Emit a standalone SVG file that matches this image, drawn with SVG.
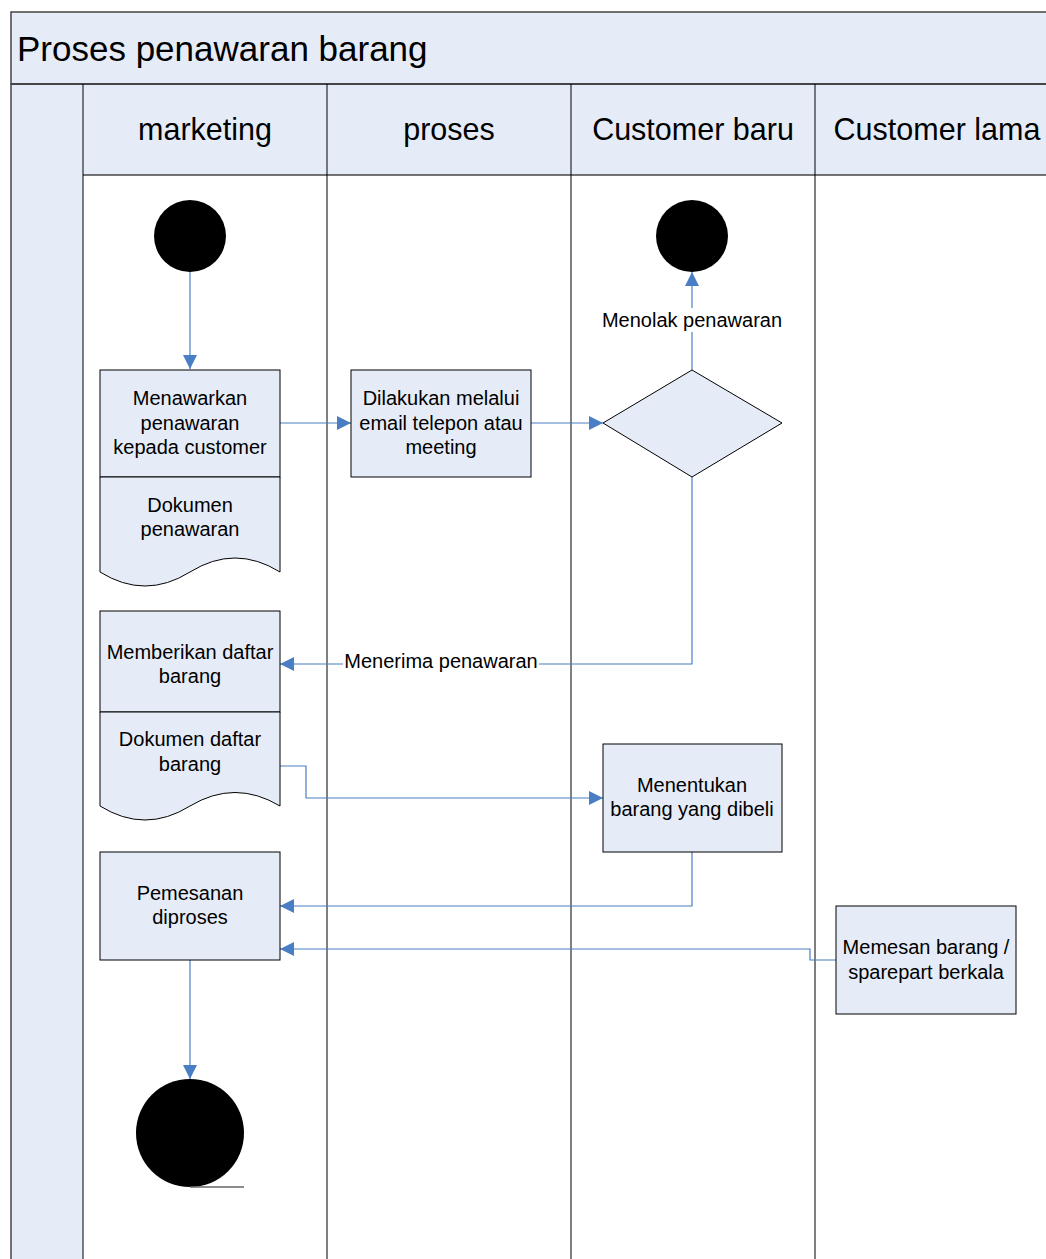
<svg xmlns="http://www.w3.org/2000/svg" width="1046" height="1259" viewBox="0 0 1046 1259">
<style>
.band{fill:#E6ECF7;stroke:none}
.lane{stroke:#000;stroke-width:1;fill:none}
.node{fill:#E6ECF7;stroke:#000;stroke-width:1}
.t{font-family:"Liberation Sans",Arial,sans-serif;font-size:20px;fill:#000;text-anchor:middle}
.h{font-family:"Liberation Sans",Arial,sans-serif;font-size:30.5px;fill:#000;text-anchor:middle}
.lbl{font-family:"Liberation Sans",Arial,sans-serif;font-size:20px;fill:#000;text-anchor:middle}
.c{fill:none;stroke:#4A7EC4;stroke-width:1.2}
</style>
<defs>
<marker id="arr" viewBox="0 0 10 10" refX="10" refY="5" markerWidth="14" markerHeight="14" markerUnits="userSpaceOnUse" orient="auto">
<path d="M0,0 L10,5 L0,10 Z" fill="#4A7EC4"/>
</marker>
</defs>
<rect width="1046" height="1259" fill="#fff"/>
<g id="pool">
<rect x="11" y="12" width="1040" height="72" class="band"/>
<rect x="11" y="12" width="1040" height="72" fill="none" stroke="#444" stroke-width="1.5"/>
<text x="17" y="61" font-family="'Liberation Sans',Arial,sans-serif" font-size="35px">Proses penawaran barang</text>
<rect x="11" y="84" width="72" height="1180" class="band"/>
<rect x="83" y="84" width="970" height="91" class="band"/>
<line x1="11" y1="84" x2="11" y2="1259" stroke="#444" stroke-width="1.5"/>
<line x1="11" y1="84" x2="1046" y2="84" stroke="#444" stroke-width="2"/>
<line x1="83" y1="175" x2="1046" y2="175" stroke="#444" stroke-width="1.5"/>
<line x1="83" y1="84" x2="83" y2="1259" class="lane"/>
<line x1="327" y1="84" x2="327" y2="1259" class="lane"/>
<line x1="571" y1="84" x2="571" y2="1259" class="lane"/>
<line x1="815" y1="84" x2="815" y2="1259" class="lane"/>
<text x="205" y="140" class="h">marketing</text>
<text x="449" y="140" class="h">proses</text>
<text x="693" y="140" class="h">Customer baru</text>
<text x="937" y="140" class="h">Customer lama</text>
</g>
<g id="connectors">
<path class="c" d="M190,272 L190,369" marker-end="url(#arr)"/>
<path class="c" d="M280,423 L351,423" marker-end="url(#arr)"/>
<path class="c" d="M531,423 L603,423" marker-end="url(#arr)"/>
<path class="c" d="M692,370 L692,272" marker-end="url(#arr)"/>
<path class="c" d="M692,477 L692,664 L280,664" marker-end="url(#arr)"/>
<path class="c" d="M280,766 L306,766 L306,798 L603,798" marker-end="url(#arr)"/>
<path class="c" d="M692,852 L692,906 L280,906" marker-end="url(#arr)"/>
<path class="c" d="M836,960 L810,960 L810,949 L280,949" marker-end="url(#arr)"/>
<path class="c" d="M190,960 L190,1079" marker-end="url(#arr)"/>
<rect x="600" y="308" width="186" height="24" fill="#fff"/>
<text x="692" y="327" class="lbl">Menolak penawaran</text>
<rect x="343" y="650" width="196" height="22" fill="#fff"/>
<text x="441" y="668" class="lbl">Menerima penawaran</text>
</g>
<g id="start1"><circle cx="190" cy="236" r="36" fill="#000"/></g>
<g id="end1"><circle cx="692" cy="236" r="36" fill="#000"/></g>
<g id="menawarkan">
<rect x="100" y="370" width="180" height="107" class="node"/>
<text class="t"><tspan x="190" y="405">Menawarkan</tspan><tspan x="190" y="430">penawaran</tspan><tspan x="190" y="454">kepada customer</tspan></text>
</g>
<g id="dok-penawaran">
<path d="M100,477 L280,477 L280,572 Q235,544 190,572 Q145,600 100,572 Z" class="node"/>
<text class="t"><tspan x="190" y="512">Dokumen</tspan><tspan x="190" y="536">penawaran</tspan></text>
</g>
<g id="dilakukan">
<rect x="351" y="370" width="180" height="107" class="node"/>
<text class="t"><tspan x="441" y="405">Dilakukan melalui</tspan><tspan x="441" y="430">email telepon atau</tspan><tspan x="441" y="454">meeting</tspan></text>
</g>
<g id="keputusan">
<path d="M692,370 L782,423 L692,477 L603,423 Z" class="node"/>
</g>
<g id="memberikan">
<rect x="100" y="611" width="180" height="101" class="node"/>
<text class="t"><tspan x="190" y="659">Memberikan daftar</tspan><tspan x="190" y="683">barang</tspan></text>
</g>
<g id="dok-daftar">
<path d="M100,712 L280,712 L280,806 Q235,779 190,806 Q145,834 100,806 Z" class="node"/>
<text class="t"><tspan x="190" y="746">Dokumen daftar</tspan><tspan x="190" y="771">barang</tspan></text>
</g>
<g id="menentukan">
<rect x="603" y="744" width="179" height="108" class="node"/>
<text class="t"><tspan x="692" y="792">Menentukan</tspan><tspan x="692" y="816">barang yang dibeli</tspan></text>
</g>
<g id="pemesanan">
<rect x="100" y="852" width="180" height="108" class="node"/>
<text class="t"><tspan x="190" y="900">Pemesanan</tspan><tspan x="190" y="924">diproses</tspan></text>
</g>
<g id="memesan">
<rect x="836" y="906" width="180" height="108" class="node"/>
<text class="t"><tspan x="926" y="954">Memesan barang /</tspan><tspan x="926" y="979">sparepart berkala</tspan></text>
</g>
<g id="end2">
<circle cx="190" cy="1133" r="54" fill="#000"/>
<line x1="190" y1="1187" x2="244" y2="1187" stroke="#666" stroke-width="1.5"/>
</g>
</svg>
